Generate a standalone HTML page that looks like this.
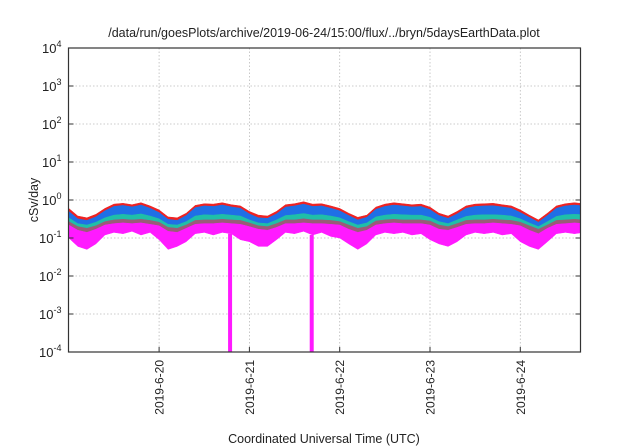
<!DOCTYPE html>
<html><head><meta charset="utf-8"><style>
body{margin:0;background:#fff;}
svg{display:block;font-family:"Liberation Sans",sans-serif;}
</style></head><body>
<svg id="chart" width="640" height="448" viewBox="0 0 640 448" xmlns="http://www.w3.org/2000/svg">
<defs><clipPath id="plotclip"><rect x="68.5" y="48" width="512" height="304"/></clipPath></defs>
<text x="324" y="37" font-size="12.5" text-anchor="middle" fill="#222">/data/run/goesPlots/archive/2019-06-24/15:00/flux/../bryn/5daysEarthData.plot</text>
<text transform="translate(38,200) rotate(-90)" font-size="12.5" text-anchor="middle" fill="#222">cSv/day</text>
<text x="324" y="443" font-size="12.5" text-anchor="middle" fill="#222">Coordinated Universal Time (UTC)</text>
<g id="grid"></g>
<g id="series" clip-path="url(#plotclip)"></g>
<g id="axes"></g>
</svg>
<script>
const yTickExps=[-4,-3,-2,-1,0,1,2,3,4];
const xTickDays=[1,2,3,4,5];
const xTickLabels=["2019-6-20","2019-6-21","2019-6-22","2019-6-23","2019-6-24"];
const red=[0.6,0.38,0.34,0.42,0.6,0.78,0.82,0.75,0.85,0.7,
0.55,0.36,0.34,0.45,0.72,0.8,0.78,0.85,0.75,0.7,
0.5,0.4,0.38,0.5,0.75,0.8,0.9,0.78,0.8,0.7,
0.6,0.45,0.35,0.4,0.65,0.78,0.85,0.8,0.75,0.78,
0.65,0.45,0.38,0.5,0.7,0.78,0.8,0.82,0.75,0.7,
0.55,0.4,0.3,0.45,0.7,0.8,0.85,0.8];
const blue=[0.5,0.32,0.29,0.36,0.52,0.68,0.72,0.66,0.74,0.61,
0.47,0.31,0.29,0.39,0.63,0.7,0.68,0.74,0.66,0.61,
0.43,0.34,0.33,0.43,0.65,0.7,0.78,0.68,0.7,0.61,
0.52,0.39,0.3,0.35,0.57,0.68,0.74,0.7,0.66,0.68,
0.56,0.39,0.33,0.43,0.61,0.68,0.7,0.71,0.66,0.61,
0.47,0.35,0.26,0.39,0.61,0.7,0.74,0.7];
const cyan=[0.34,0.24,0.22,0.26,0.34,0.4,0.42,0.4,0.43,0.38,
0.32,0.23,0.22,0.27,0.38,0.41,0.4,0.42,0.4,0.38,
0.3,0.25,0.24,0.3,0.39,0.41,0.44,0.4,0.41,0.38,
0.34,0.27,0.22,0.25,0.36,0.4,0.42,0.41,0.4,0.4,
0.35,0.27,0.24,0.3,0.37,0.4,0.41,0.41,0.4,0.38,
0.32,0.25,0.2,0.27,0.37,0.41,0.42,0.41];
const gray=[0.27,0.2,0.18,0.21,0.27,0.3,0.31,0.3,0.31,0.29,
0.26,0.19,0.18,0.22,0.29,0.3,0.3,0.31,0.3,0.29,
0.25,0.21,0.2,0.24,0.3,0.3,0.32,0.3,0.3,0.29,
0.27,0.22,0.18,0.2,0.28,0.3,0.31,0.3,0.3,0.3,
0.28,0.22,0.2,0.24,0.29,0.3,0.3,0.31,0.3,0.29,
0.26,0.21,0.17,0.22,0.29,0.3,0.31,0.3];
const magTop=[0.22,0.16,0.14,0.17,0.22,0.24,0.25,0.24,0.25,0.23,
0.21,0.15,0.14,0.18,0.23,0.24,0.24,0.25,0.24,0.23,
0.2,0.17,0.16,0.19,0.24,0.24,0.25,0.24,0.24,0.23,
0.22,0.17,0.14,0.16,0.22,0.24,0.25,0.24,0.24,0.24,
0.22,0.17,0.16,0.19,0.23,0.24,0.24,0.25,0.24,0.23,
0.21,0.16,0.13,0.18,0.23,0.24,0.25,0.24];
const magLow=[0.1,0.06,0.05,0.07,0.12,0.14,0.13,0.15,0.12,0.14,
0.09,0.05,0.06,0.08,0.13,0.14,0.12,0.14,0.13,0.09,
0.08,0.06,0.06,0.09,0.14,0.13,0.15,0.12,0.14,0.11,
0.1,0.07,0.05,0.07,0.12,0.14,0.13,0.14,0.12,0.13,
0.09,0.07,0.06,0.08,0.12,0.14,0.13,0.14,0.12,0.13,
0.08,0.06,0.05,0.08,0.13,0.14,0.13,0.14];
const spikeDays=[1.786,2.69];
const spikeValues=[1e-4,1e-4];
const tStep=0.1;

const L=68.5,R=580.5,T=48,B=352,D0=159.1,DAY=90.3;
const x=t=>D0+(t-1)*DAY;
const y=v=>B-(Math.log10(v)+4)*(B-T)/8;
const NS="http://www.w3.org/2000/svg";
function mk(tag,attrs,parent){const e=document.createElementNS(NS,tag);for(const k in attrs)e.setAttribute(k,attrs[k]);parent.appendChild(e);return e;}
const grid=document.getElementById('grid'),ser=document.getElementById('series'),axes=document.getElementById('axes');
yTickExps.forEach(p=>{
  const yy=y(Math.pow(10,p));
  if(p>-4&&p<4){const g=mk('line',{x1:L,x2:R,y1:yy,y2:yy,stroke:'#bbb','stroke-dasharray':'1.5,2','stroke-width':0.8},grid);
  
  }
  const tk=mk('line',{x1:L,x2:L+5,y1:yy,y2:yy,stroke:'#333'},axes);
  
  
  const tk2=mk('line',{x1:R-5,x2:R,y1:yy,y2:yy,stroke:'#333'},axes);
  
  
  const tx=mk('text',{x:L-7,y:yy+5,'font-size':13,'text-anchor':'end',fill:'#222'},axes);
  
  
  tx.innerHTML='10<tspan dy="-6" font-size="9">'+p+'</tspan>';
});
xTickDays.forEach((d,i)=>{
  const xx=x(d);
  const g=mk('line',{x1:xx,x2:xx,y1:T,y2:B,stroke:'#bbb','stroke-dasharray':'1.5,2','stroke-width':0.8},grid);
  
  
  const tk=mk('line',{x1:xx,x2:xx,y1:B-5,y2:B,stroke:'#333'},axes);
  
  
  const tx=mk('text',{transform:`translate(${xx+4.5},${B+8}) rotate(-90)`,'font-size':12,'text-anchor':'end',fill:'#222'},axes);
  
  
  tx.textContent=xTickLabels[i];
});
function band(top,bot,color,name){
  let pts=top.map((v,i)=>x(i*tStep).toFixed(1)+','+y(v).toFixed(1));
  for(let i=bot.length-1;i>=0;i--)pts.push(x(i*tStep).toFixed(1)+','+y(bot[i]).toFixed(1));
  const p=mk('polygon',{points:pts.join(' '),fill:color,stroke:color,'stroke-width':0.5,'stroke-linejoin':'round'},ser);
  
  
}
band(red,magTop,'#ee2222','series-red');
band(blue,magTop,'#1f6fe6','series-blue');
band(cyan,magTop,'#1fbfa8','series-cyan');
band(gray,magTop,'#9a5b78','series-gray');
band(magTop,magLow,'#ff1aff','series-magenta');
spikeDays.forEach((d,i)=>{
  const r=mk('rect',{x:x(d)-2,y:y(magLow[Math.round(d/tStep)]),width:4,height:y(spikeValues[i])-y(magLow[Math.round(d/tStep)]),fill:'#ff1aff'},ser);
  
  
});
const fr=mk('rect',{x:L,y:T,width:R-L,height:B-T,fill:'none',stroke:'#333','stroke-width':1.2},axes);


</script>
</body></html>
